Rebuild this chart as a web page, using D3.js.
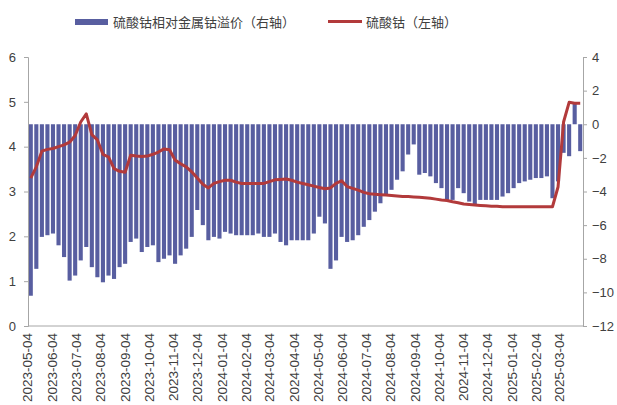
<!DOCTYPE html>
<html>
<head>
<meta charset="utf-8">
<script src="https://cdn.jsdelivr.net/npm/d3@7/dist/d3.min.js"></script>
<style>
  html, body { margin: 0; padding: 0; background: #fff; }
  svg { display: block; }
  text { font-family: "Liberation Sans", Arial, sans-serif; fill: #404040; }
  .cjk { font-family: "Noto Sans CJK SC", "Noto Sans", sans-serif; }
</style>
</head>
<body>
<svg id="chart" width="617" height="405"></svg>
<script>
// ---- Data ----
const startDate = "2023-05-08";   // first weekly observation
const stepDays = 7;               // weekly observations

// 硫酸钴相对金属钴溢价 (right axis)
const premium = [
  -10.2, -8.6, -6.7, -6.6, -6.5, -7.2, -7.9, -9.3, -9.0, -8.1,
  -7.3, -8.5, -9.1, -9.4, -9.0, -9.2, -8.5, -8.3, -7.0, -6.8,
  -7.6, -7.3, -7.2, -8.2, -8.0, -7.8, -8.3, -7.8, -7.4, -6.7,
  -5.1, -6.0, -6.9, -6.7, -6.8, -6.4, -6.5, -6.6, -6.6, -6.6,
  -6.6, -6.5, -6.7, -6.7, -6.5, -7.0, -7.2, -6.9, -6.9, -6.9,
  -6.9, -6.5, -5.5, -5.9, -8.6, -8.1, -6.7, -7.0, -6.9, -6.6,
  -6.1, -5.7, -5.2, -4.7, -4.2, -3.9, -3.3, -2.8, -1.8, -1.2,
  -3.0, -2.9, -3.1, -3.5, -3.8, -4.5, -4.5, -3.8, -4.1, -4.6,
  -4.8, -4.5, -4.5, -4.5, -4.5, -4.3, -4.1, -3.8, -3.5, -3.4,
  -3.3, -3.2, -3.2, -3.1, -4.4, -3.4, -1.7, -1.9, 1.3, -1.6
];

// 硫酸钴 (left axis)
const cobaltSulfate = [
  3.30, 3.55, 3.90, 3.94, 3.96, 4.00, 4.04, 4.10, 4.25, 4.55,
  4.73, 4.27, 4.15, 3.83, 3.77, 3.51, 3.45, 3.43, 3.81, 3.79,
  3.78, 3.79, 3.83, 3.88, 3.95, 3.93, 3.70, 3.62, 3.55, 3.44,
  3.30, 3.16, 3.08, 3.18, 3.22, 3.25, 3.25, 3.21, 3.18, 3.18,
  3.18, 3.18, 3.18, 3.22, 3.26, 3.27, 3.28, 3.25, 3.21, 3.18,
  3.15, 3.12, 3.09, 3.06, 3.08, 3.18, 3.24, 3.11, 3.07, 3.03,
  2.98, 2.95, 2.94, 2.93, 2.92, 2.91, 2.90, 2.89, 2.89, 2.88,
  2.87, 2.86, 2.85, 2.83, 2.81, 2.80, 2.77, 2.75, 2.72, 2.71,
  2.70, 2.69, 2.68, 2.67, 2.67, 2.66, 2.66, 2.66, 2.66, 2.66,
  2.66, 2.66, 2.66, 2.66, 2.66, 3.10, 4.55, 4.99, 4.97, 4.97
];

const xTickLabels = [
  "2023-05-04","2023-06-04","2023-07-04","2023-08-04","2023-09-04","2023-10-04",
  "2023-11-04","2023-12-04","2024-01-04","2024-02-04","2024-03-04","2024-04-04",
  "2024-05-04","2024-06-04","2024-07-04","2024-08-04","2024-09-04","2024-10-04",
  "2024-11-04","2024-12-04","2025-01-04","2025-02-04","2025-03-04"
];
const leftTicks = [0, 1, 2, 3, 4, 5, 6];
const rightTicks = [-12, -10, -8, -6, -4, -2, 0, 2, 4];
const legendLabels = ["硫酸钴相对金属钴溢价（右轴）", "硫酸钴（左轴）"];

// ---- Layout ----
const plot = { left: 28, right: 583, top: 57, bottom: 326 };
const colors = { bar: "#585ea0", line: "#b23a3b", axis: "#a6a6a6", text: "#404040" };

const parse = d3.utcParse("%Y-%m-%d");
const t0 = parse(startDate);
const dates = premium.map((_, i) => d3.utcDay.offset(t0, i * stepDays));
const half = stepDays / 2 * 864e5;

const x = d3.scaleUtc()
  .domain([new Date(+dates[0] - half), new Date(+dates[dates.length - 1] + half)])
  .range([plot.left, plot.right]);
const yL = d3.scaleLinear().domain([0, 6]).range([plot.bottom, plot.top]);
const yR = d3.scaleLinear().domain([-12, 4]).range([plot.bottom, plot.top]);

const svg = d3.select("#chart");
const step = x(dates[1]) - x(dates[0]);
const barW = step * 0.74;

// bars
svg.append("g").selectAll("rect")
  .data(premium)
  .join("rect")
  .attr("x", (d, i) => x(dates[i]) - barW / 2)
  .attr("width", barW)
  .attr("y", d => Math.min(yR(0), yR(d)))
  .attr("height", d => Math.abs(yR(d) - yR(0)))
  .attr("fill", colors.bar);

// line
const line = d3.line()
  .x((d, i) => x(dates[i]))
  .y(d => yL(d));
svg.append("path")
  .datum(cobaltSulfate)
  .attr("d", line)
  .attr("fill", "none")
  .attr("stroke", colors.line)
  .attr("stroke-width", 3)
  .attr("stroke-linejoin", "round");

// left axis
const gL = svg.append("g").attr("transform", `translate(${plot.left},0)`)
  .call(d3.axisLeft(yL).tickValues(leftTicks).tickSize(4).tickPadding(8).tickFormat(d3.format("d")));
// right axis
const gR = svg.append("g").attr("transform", `translate(${plot.right},0)`)
  .call(d3.axisRight(yR).tickValues(rightTicks).tickSize(4).tickPadding(5).tickFormat(d3.format("d")));
[gL, gR].forEach(g => {
  g.select(".domain").attr("stroke", colors.axis);
  g.selectAll(".tick line").attr("stroke", colors.axis);
  g.selectAll(".tick text").attr("fill", colors.text)
    .style("font-family", '"Liberation Sans", Arial, sans-serif').style("font-size", "13px");
});

// bottom axis line
svg.append("line")
  .attr("x1", plot.left).attr("x2", plot.right)
  .attr("y1", plot.bottom).attr("y2", plot.bottom)
  .attr("stroke", colors.axis);

// x labels (rotated)
svg.append("g").selectAll("text")
  .data(xTickLabels)
  .join("text")
  .attr("transform", d => `translate(${x(parse(d))},${plot.bottom + 7}) rotate(-90)`)
  .attr("text-anchor", "end")
  .attr("dy", "0.35em")
  .style("font-size", "13.5px")
  .text(d => d);

// legend
const lg = svg.append("g");
lg.append("rect").attr("x", 75).attr("y", 19).attr("width", 33).attr("height", 6).attr("fill", colors.bar);
lg.append("text").attr("class", "cjk").attr("x", 113).attr("y", 22).attr("dy", "0.35em")
  .style("font-size", "13px").text(legendLabels[0]);
lg.append("line").attr("x1", 328).attr("x2", 362).attr("y1", 21.5).attr("y2", 21.5)
  .attr("stroke", colors.line).attr("stroke-width", 3);
lg.append("text").attr("class", "cjk").attr("x", 366).attr("y", 22).attr("dy", "0.35em")
  .style("font-size", "13px").text(legendLabels[1]);
</script>
</body>
</html>
